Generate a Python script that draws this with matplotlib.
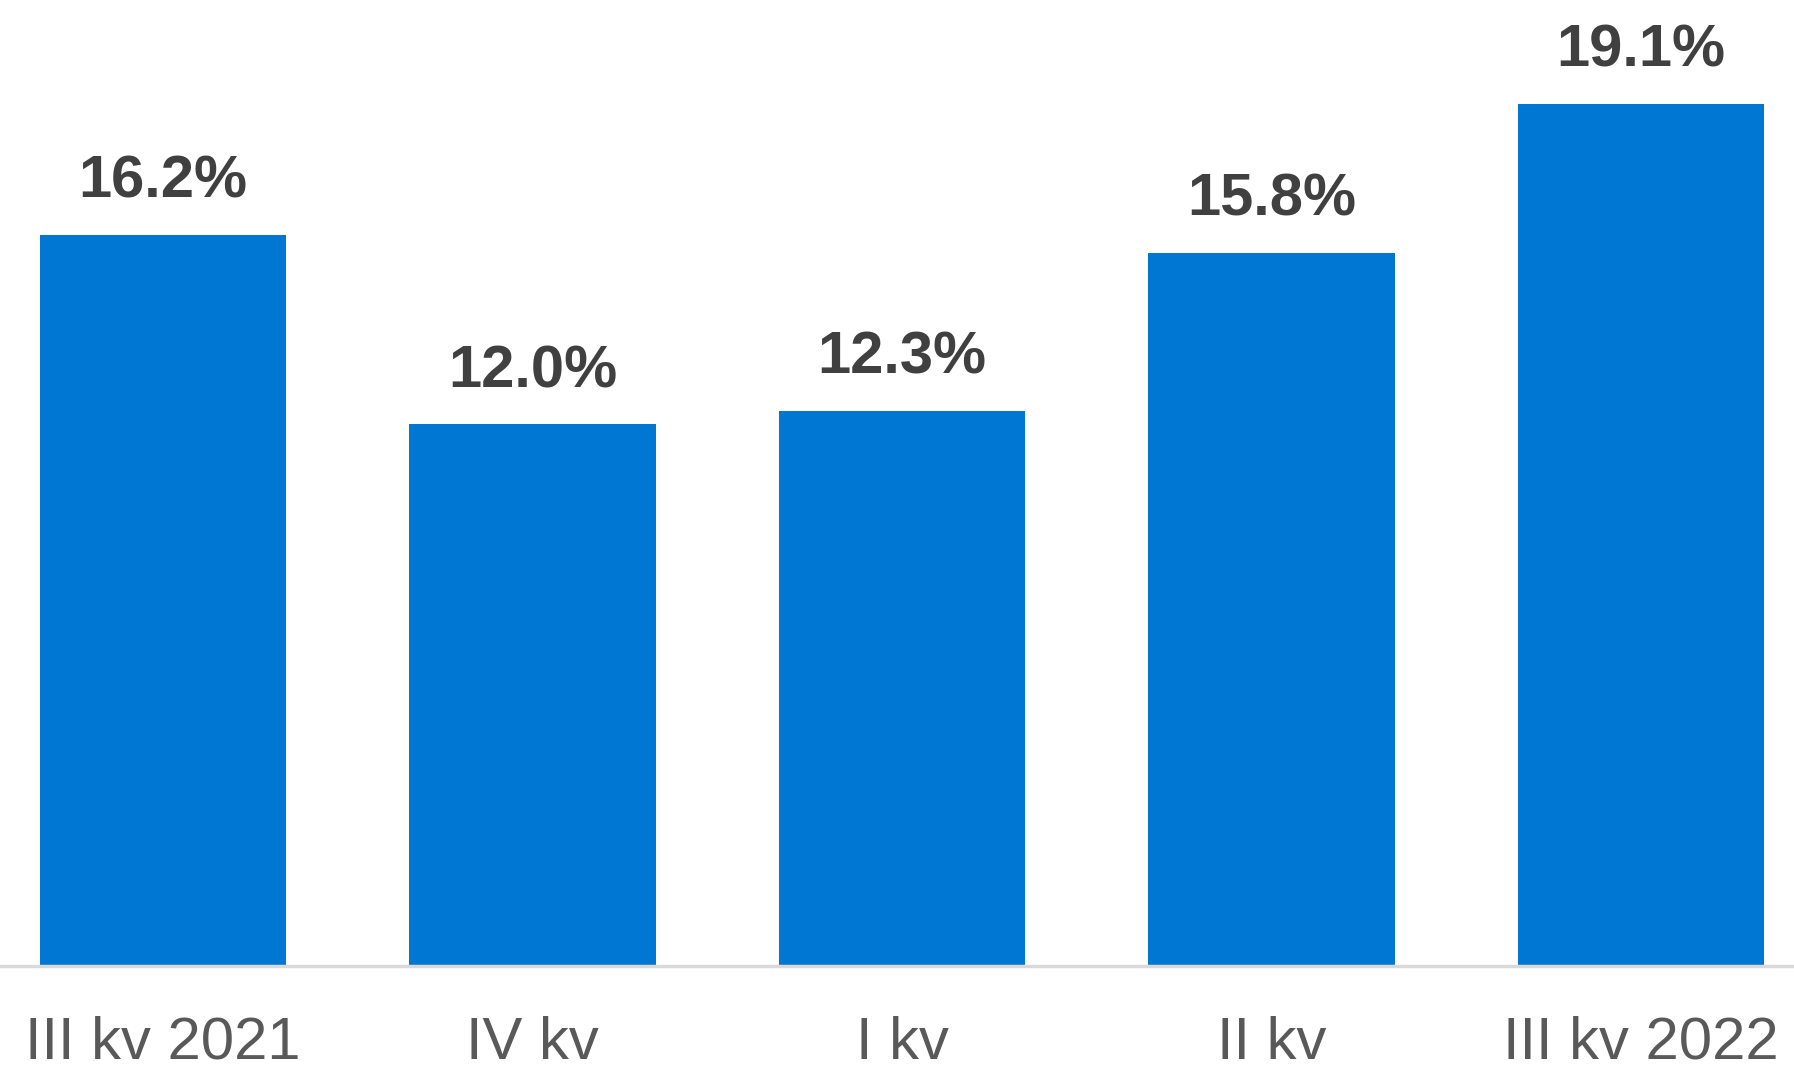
import matplotlib
matplotlib.use('Agg')
import matplotlib.pyplot as plt

# data
categories = ['III kv 2021', 'IV kv', 'I kv', 'II kv', 'III kv 2022']
values = [16.2, 12.0, 12.3, 15.8, 19.1]

plt.rcParams['font.family'] = ['Liberation Sans', 'DejaVu Sans']

fig = plt.figure(figsize=(17.94, 10.67), dpi=100)
ax = fig.add_axes([0, 0.0947, 1, 0.9053])

x = list(range(len(categories)))
bars = ax.bar(x, values, width=0.666, color='#0077d3')

# value labels above bars
for rect, v in zip(bars, values):
    ax.annotate(f'{v:.1f}%', xy=(rect.get_x() + rect.get_width() / 2, rect.get_height()),
                xytext=(0, 26.6), textcoords='offset points',
                ha='center', va='baseline', fontsize=43, fontweight='bold', color='#404040')

ax.set_xlim(-0.441, 4.414)
ax.set_ylim(0, 21.4)
ax.set_xticks(x)
ax.set_xticklabels(categories, fontsize=43, color='#595959')
ax.tick_params(axis='x', length=0, pad=36)
ax.set_yticks([])

for s in ['top', 'right', 'left']:
    ax.spines[s].set_visible(False)
ax.spines['bottom'].set_color('#d9d9d9')
ax.spines['bottom'].set_linewidth(2.5)

fig.savefig('out.png', dpi=100)
